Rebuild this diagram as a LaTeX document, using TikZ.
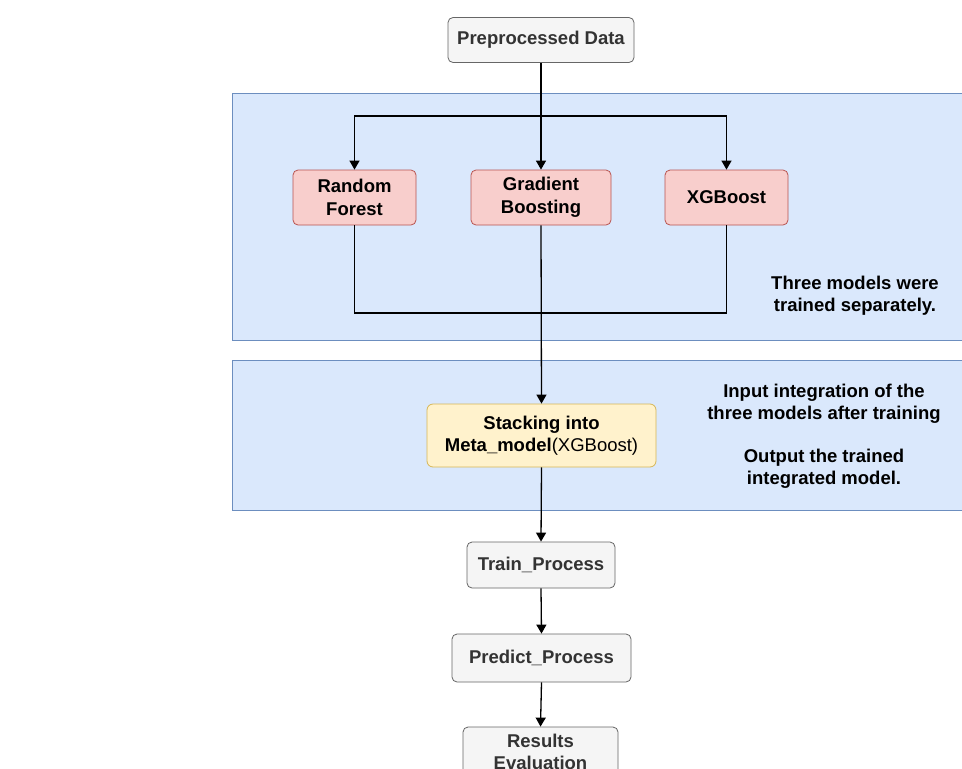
\documentclass[tikz,border=0pt]{standalone}
\usepackage{fontspec}
\setmainfont{Liberation Sans}
\usetikzlibrary{arrows.meta}
\definecolor{bandfill}{HTML}{DAE8FC}
\definecolor{bandline}{HTML}{6C8EBF}
\definecolor{redfill}{HTML}{F8CECC}
\definecolor{redline}{HTML}{B85450}
\definecolor{yelfill}{HTML}{FFF2CC}
\definecolor{yelline}{HTML}{D6B656}
\definecolor{grayfill}{HTML}{F5F5F5}
\definecolor{grayline}{HTML}{666666}
\definecolor{graytext}{HTML}{333333}
\tikzset{
  band/.style={draw=bandline, fill=bandfill, line width=0.8pt},
  graybox/.style={draw=grayline, fill=grayfill, rounded corners=5pt, line width=0.8pt,
    text=graytext, font=\fontsize{18.5}{22.5}\selectfont\bfseries, align=center, inner sep=0pt},
  redbox/.style={draw=redline, fill=redfill, rounded corners=5pt, line width=0.8pt,
    text=black, font=\fontsize{18.5}{22.5}\selectfont\bfseries, align=center, inner sep=0pt,
    minimum height=55pt},
  yelbox/.style={draw=yelline, fill=yelfill, rounded corners=6pt, line width=0.8pt,
    text=black, font=\fontsize{18.5}{22}\selectfont, align=center, inner sep=0pt},
  note/.style={text=black, font=\fontsize{18.5}{22.5}\selectfont\bfseries, align=center},
  conn/.style={draw=black, line width=1.3pt},
  arr/.style={conn, -{Triangle[length=9pt,width=10pt]}},
}
\begin{document}
\begin{tikzpicture}[x=1pt,y=-1pt]
\useasboundingbox (0,0) rectangle (962,769);
\clip (0,0) rectangle (962,769);
\fill[white] (0,0) rectangle (962,769);
% bands
\draw[band] (232,93) rectangle (970,340);
\draw[band] (232,360) rectangle (970,510);
% nodes
\node[graybox, minimum width=186pt, minimum height=45pt] (pre) at (541,40) {Preprocessed Data};
\node[redbox, minimum width=123pt] (rf) at (354.5,197.5) {Random\\Forest};
\node[redbox, minimum width=140pt] (gb) at (541,197.5) {Gradient\\Boosting};
\node[redbox, minimum width=123pt] (xg) at (726.5,197.5) {XGBoost};
\node[yelbox, minimum width=229pt, minimum height=63pt] (meta) at (541.5,435.5) {\textbf{Stacking into}\\\textbf{Meta\_model}(XGBoost)};
\node[graybox, minimum width=148pt, minimum height=46pt] (train) at (541,565) {Train\_Process};
\node[graybox, minimum width=179pt, minimum height=48pt] (pred) at (541.5,658) {Predict\_Process};
\node[graybox, minimum width=155pt, minimum height=50pt] (res) at (540.5,752) {Results\\Evaluation};
\node[note] (n1) at (855,295.5) {Three models were\\trained separately.};
\node[note] (n2) at (824,404) {Input integration of the\\three models after training};
\node[note] (n3) at (824,469) {Output the trained\\integrated model.};
% connectors
\coordinate (split) at (541,116);
\coordinate (joinL) at (rf.south |- 0,313);
\coordinate (joinR) at (xg.south |- 0,313);
\draw[arr] (pre.south) -- (gb.north);
\draw[arr] (split) -| (rf.north);
\draw[arr] (split) -| (xg.north);
\draw[conn] (rf.south) -- (joinL) -- (joinR) -- (xg.south);
\draw[arr] (gb.south) -- (meta.north);
\draw[arr] (meta.south) -- (train.north);
\draw[arr] (train.south) -- (pred.north);
\draw[arr] (pred.south) -- (res.north);
\end{tikzpicture}
\end{document}
